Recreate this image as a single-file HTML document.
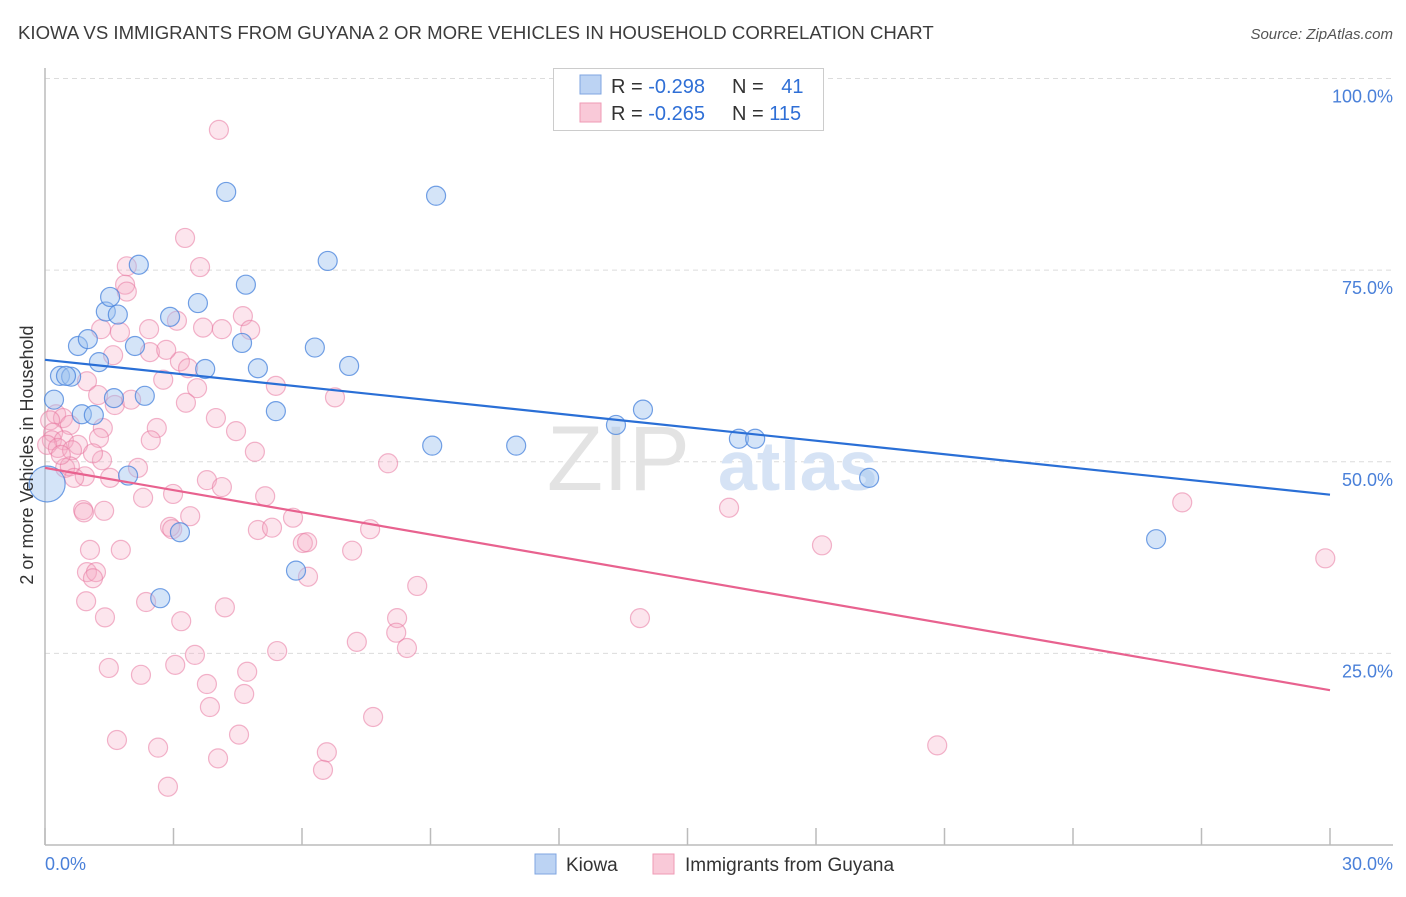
<!DOCTYPE html>
<html><head><meta charset="utf-8"><style>
body{margin:0;background:#fff;font-family:"Liberation Sans",sans-serif;}
svg text{font-family:"Liberation Sans",sans-serif;}
</style></head><body>
<svg id="chart" width="1406" height="892" viewBox="0 0 1406 892" xmlns="http://www.w3.org/2000/svg">
<text x="18" y="39" font-size="18.6" fill="#3c3c3c">KIOWA VS IMMIGRANTS FROM GUYANA 2 OR MORE VEHICLES IN HOUSEHOLD CORRELATION CHART</text>
<text x="1393" y="39" font-size="15" fill="#555" font-style="italic" text-anchor="end">Source: ZipAtlas.com</text>
<g id="grid"></g>
<g><text x="690" y="490" font-size="92" fill="#e3e3e3" text-anchor="end" font-family="Liberation Serif">ZIP</text><text x="718" y="490" font-size="70" fill="#d6e3f5" font-weight="bold">atlas</text></g>
<g id="pts"></g>
<g id="lines"></g>
<text transform="translate(33,455) rotate(-90)" font-size="18" fill="#333" text-anchor="middle">2 or more Vehicles in Household</text>
<g>
<rect x="553.5" y="68.5" width="270" height="62" fill="#fff" stroke="#ccc"/>
<rect x="580" y="75" width="21" height="19" fill="#bcd3f3" stroke="#7fa6e0"/>
<rect x="580" y="103" width="21" height="19" fill="#f9c9d8" stroke="#ef9ab5"/>
<text x="611" y="93" font-size="20" fill="#333">R = <tspan fill="#2f6fd6">-0.298</tspan></text>
<text x="732" y="93" font-size="20" fill="#333">N = <tspan fill="#2f6fd6" dx="12">41</tspan></text>
<text x="611" y="120" font-size="20" fill="#333">R = <tspan fill="#2f6fd6">-0.265</tspan></text>
<text x="732" y="120" font-size="20" fill="#333">N = <tspan fill="#2f6fd6">115</tspan></text>
</g>
<g>
<rect x="535" y="854" width="21" height="20" fill="#bcd3f3" stroke="#7fa6e0"/>
<text x="566" y="871" font-size="19" fill="#333">Kiowa</text>
<rect x="653" y="854" width="21" height="20" fill="#f9c9d8" stroke="#ef9ab5"/>
<text x="685" y="871" font-size="19" fill="#333">Immigrants from Guyana</text>
</g>
</svg>
<script>
const kiowaX=[0.21,0.05,0.35,0.61,0.49,0.77,0.86,1.00,1.14,1.26,1.42,1.52,1.70,1.61,1.94,2.10,2.19,2.33,2.69,2.92,3.15,3.57,3.74,4.23,4.60,4.69,4.97,5.39,5.86,6.30,6.60,7.10,9.04,9.13,11.0,13.33,13.96,16.2,16.58,19.24,25.94];
const kiowaY=[58.1,47.1,61.2,61.1,61.2,65.1,56.2,66.0,56.1,63.0,69.6,71.5,69.2,58.3,48.2,65.1,75.7,58.6,32.2,68.9,40.8,70.7,62.1,85.2,65.5,73.1,62.2,56.6,35.8,64.9,76.2,62.5,52.1,84.7,52.1,54.8,56.8,53.0,53.0,47.9,39.9];
const guyanaX=[4.06,3.27,1.91,3.62,1.87,1.91,1.31,1.75,2.43,3.08,3.69,4.13,4.62,1.59,2.45,3.15,3.34,0.98,2.76,3.55,5.39,6.77,1.63,2.01,3.29,3.99,0.26,0.42,0.12,0.58,0.19,1.35,2.61,2.47,4.46,0.16,0.44,0.77,1.26,0.05,0.30,0.63,1.33,1.12,4.90,0.47,0.58,0.93,0.68,2.17,1.52,3.78,4.13,8.01,5.14,2.29,2.99,0.89,0.91,1.38,3.39,2.92,2.97,4.97,5.30,5.79,6.02,6.12,7.59,7.17,1.05,1.77,15.97,18.14,26.55,29.89,0.98,1.19,1.12,6.14,8.69,0.96,2.36,4.20,1.40,3.18,8.22,8.20,13.89,7.28,8.45,5.42,3.50,1.49,2.24,3.04,4.72,3.78,4.65,3.85,7.66,1.68,4.53,2.64,6.58,4.04,6.49,2.87,20.83,0.37,1.24,4.79,2.83];
const guyanaY=[93.3,79.2,75.5,75.4,73.1,72.2,67.3,66.9,67.3,68.4,67.5,67.3,69.0,63.9,64.3,63.1,62.2,60.5,60.7,59.6,59.9,58.4,57.4,58.1,57.7,55.7,56.2,55.7,55.4,54.8,53.8,54.4,54.4,52.8,54.0,52.8,52.8,52.2,53.1,52.2,51.8,51.5,50.2,51.1,51.3,49.2,49.4,48.1,47.9,49.2,47.9,47.6,46.7,49.8,45.5,45.3,45.8,43.7,43.4,43.6,42.9,41.5,41.2,41.1,41.4,42.7,39.4,39.5,41.2,38.4,38.5,38.5,44.0,39.1,44.7,37.4,35.6,35.6,34.8,35.0,33.8,31.8,31.7,31.0,29.7,29.2,29.6,27.7,29.6,26.5,25.7,25.3,24.8,23.1,22.2,23.5,22.6,21.0,19.7,18.0,16.7,13.7,14.4,12.7,12.1,11.3,9.8,7.6,13.0,50.9,58.7,67.2,64.6];
const kiowaTrend=[63.3,45.7];
const guyanaTrend=[49.2,20.2];
const yTicks=[25,50,75,100];
const xTickVals=[0,3,6,9,12,15,18,21,24,27,30];
const xLabels=["0.0%","30.0%"];

const X0=45,X1=1330,Y0=845,YPER=7.665;
const sx=v=>X0+(v/30)*(X1-X0);
const sy=v=>Y0-v*YPER;
const NS="http://www.w3.org/2000/svg";
function mk(t,a,p){const e=document.createElementNS(NS,t);for(const k in a)e.setAttribute(k,a[k]);p.appendChild(e);return e;}
const grid=document.getElementById('grid');
yTicks.forEach(v=>{
  const l=mk('line',{x1:45,x2:1393,y1:sy(v),y2:sy(v),stroke:'#dcdcdc','stroke-dasharray':'5,4'},grid);
  
  
  const t=mk('text',{x:1393,y:sy(v)+24,'font-size':18,fill:'#4a80d9','text-anchor':'end'},grid);
  t.textContent=v.toFixed(1)+'%';
  
  
});
const ax=mk('line',{x1:45,x2:45,y1:68,y2:845,stroke:'#bbb','stroke-width':1.5},grid);


const bx=mk('line',{x1:45,x2:1393,y1:845,y2:845,stroke:'#bbb','stroke-width':1.5},grid);


xTickVals.forEach(v=>{
  const l=mk('line',{x1:sx(v),x2:sx(v),y1:828,y2:845,stroke:'#bbb','stroke-width':1.5},grid);
  
  
});
const xl0=mk('text',{x:45,y:870,'font-size':18,fill:'#4a80d9'},grid);xl0.textContent=xLabels[0];


const xl1=mk('text',{x:1393,y:870,'font-size':18,fill:'#4a80d9','text-anchor':'end'},grid);xl1.textContent=xLabels[1];



const pts=document.getElementById('pts');
guyanaX.forEach((x,i)=>{
  const c=mk('circle',{cx:sx(x),cy:sy(guyanaY[i]),r:9.5,fill:'rgba(246,170,196,0.3)',stroke:'rgba(232,120,160,0.55)','stroke-width':1.2},pts);
  
  
});
kiowaX.forEach((x,i)=>{
  const c=mk('circle',{cx:sx(x),cy:sy(kiowaY[i]),r:i===1?18:9.5,fill:'rgba(160,195,240,0.45)',stroke:'rgba(70,130,220,0.75)','stroke-width':1.2},pts);
  
  
});
const lines=document.getElementById('lines');
const lb=mk('line',{x1:sx(0),y1:sy(kiowaTrend[0]),x2:sx(30),y2:sy(kiowaTrend[1]),stroke:'#2a6fd6','stroke-width':2.2},lines);


const lp=mk('line',{x1:sx(0),y1:sy(guyanaTrend[0]),x2:sx(30),y2:sy(guyanaTrend[1]),stroke:'#e8628f','stroke-width':2.2},lines);


</script>
</body></html>
